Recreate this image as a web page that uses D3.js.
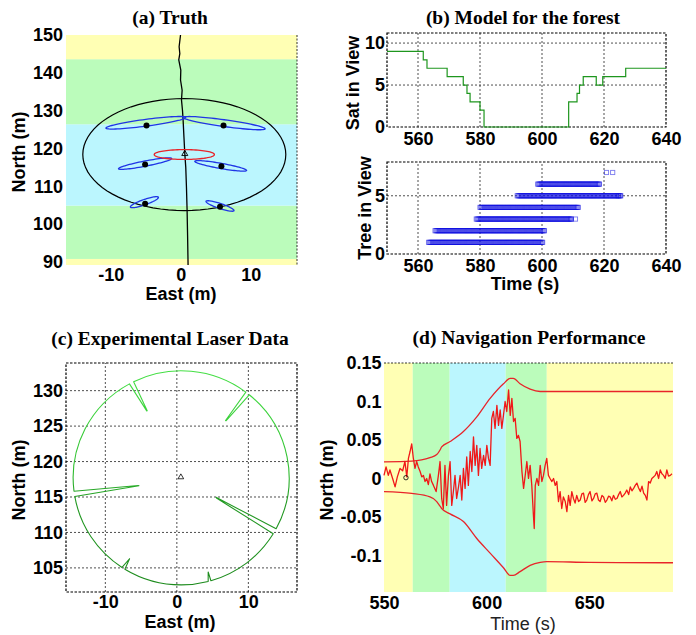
<!DOCTYPE html>
<html>
<head>
<meta charset="utf-8">
<script src="https://cdn.jsdelivr.net/npm/d3@7"></script>
<style>
  body { margin: 0; background: #fff; }
  text { font-family: "Liberation Sans", Arial, sans-serif; fill: #000; }
  .title { font-family: "Liberation Serif", "Times New Roman", serif; font-weight: bold; font-size: 19.5px; }
  .tick text { font-size: 18px; font-weight: bold; }
  .lab { font-size: 18px; font-weight: bold; }
</style>
</head>
<body>
<svg id="fig" width="696" height="635"></svg>
<script>
// ---------- data ----------
// (a) Truth
var truthBandLo = [89.2, 90.8, 104.9, 126.4, 143.6];
var truthBandHi = [90.8, 104.9, 126.4, 143.6, 150];
var truthBandKind = ["open", "edge", "forest", "edge", "open"];
var pathNorth = [150, 146.9, 145.1, 143.4, 140.7, 138.1, 135.4, 132.8, 130.1, 127.5, 123, 118.7, 115, 109.7, 103.6, 97, 89.2];
var pathEast  = [-0.04, -0.24, -0.14, -0.29, 0.0, -0.04, 0.19, 0.1, 0.24, 0.33, 0.45, 0.57, 0.71, 0.81, 0.9, 0.97, 1.04];
var treeEast  = [-4.9, 6.1, -5.1, 5.8, -5.1, 5.6];
var treeNorth = [126.1, 126.1, 115.8, 115.3, 105.4, 104.6];
// tree uncertainty ellipses: centre, major half-vector, vertical half-size
var ellCx = [-5.0, 6.2, -5.1, 5.7, -5.2, 5.6];
var ellCy = [126.8, 126.7, 116.0, 115.4, 105.8, 104.8];
var ellUx = [5.7, 5.85, 3.8, 3.7, 2.0, 2.0];
var ellUy = [1.4, -1.5, 1.35, -1.2, 1.25, -1.2];
var ellV  = [0.9, 0.9, 0.7, 0.7, 0.75, 0.7];
var robotEllipse = [0.5, 118.4, 4.3, 0, 1.3];   // red
var rangeEllipse = [0.5, 118.4, 14.5, 0, 14.8]; // black
var robotPos = [0.57, 118.6];

// (b) Model for the forest
var satTime  = [550, 561.7, 562.9, 569.4, 574.6, 575.8, 576.8, 580.0, 581.3, 608.6, 611.3, 612.1, 613.3, 617.5, 619.6, 627.0, 640];
var satCount = [9, 8, 7, 6, 5, 4, 3, 2, 0, 3, 4, 5, 6, 5, 6, 7, 7];
var treeRow  = [1, 2, 3, 4, 5, 6];
var treeFrom = [563.4, 565.5, 578.8, 580.0, 592.0, 598.6];
var treeTo   = [600.2, 600.8, 609.4, 611.7, 625.4, 618.5];
var treeExtraRow  = [3, 5, 7, 7];
var treeExtraTime = [610.8, 624.6, 620.8, 622.8];
var scanPeriod = 0.3;

// (c) Experimental laser data: [bearing deg, range m], max range drawn as arcs
var scanOrigin = [0.6, 117.7];
var scanMax = 15.1;
var scanAngle = [-90, -75.5, -74.1, -74.0, -31.5, -30.0, -29.4, -28.4, 50.9, 52.1, 52.5, 53.2, 116.1, 116.6, 117.0, 118.6, 187.2, 190.2, 190.6, 190.0, 236.8, 237.7, 238.6, 270];
var scanRange = [15.1, 15.1, 13.8, 15.1, 15.1, 5.7, 5.6, 15.1, 15.1, 10.2, 10.2, 15.1, 15.1, 10.6, 10.6, 15.1, 15.1, 6.1, 6.0, 15.1, 15.1, 13.5, 15.1, 15.1];
var laserRobot = [0.56, 117.8];

// (d) Navigation performance
var navBandFrom = [550, 564, 582, 609.3, 629.3];
var navBandTo   = [564, 582, 609.3, 629.3, 690.8];
var navBandKind = ["open", "edge", "forest", "edge", "open"];
var errTime = [550.0, 551.0, 552.1, 552.9, 554.2, 555.4, 556.5, 557.8, 559.1, 560.2, 561.1, 561.9, 562.7, 563.5, 564.3, 565.1, 565.9, 566.7, 567.6, 568.4, 569.2, 570.0, 570.8, 571.6, 572.4, 573.2, 574.1, 575.4, 576.5, 577.3, 578.1, 578.9, 579.7, 580.5, 581.4, 582.2, 583.0, 583.8, 584.6, 585.4, 586.3, 587.1, 587.9, 588.7, 589.5, 590.3, 591.1, 592.0, 592.8, 593.6, 594.4, 595.2, 596.0, 596.8, 597.6, 598.5, 599.3, 600.1, 600.9, 601.7, 602.5, 603.3, 604.1, 605.0, 605.8, 606.6, 607.4, 608.2, 609.0, 609.8, 610.7, 611.5, 612.3, 613.1, 613.9, 614.7, 615.5, 616.3, 617.2, 618.0, 618.8, 619.6, 620.4, 621.2, 622.0, 622.8, 623.2, 623.7, 624.5, 625.3, 626.1, 626.9, 627.7, 628.5, 629.3, 630.1, 630.9, 631.8, 632.6, 633.4, 634.2, 635.0, 635.8, 636.6, 637.4, 638.3, 639.1, 639.9, 640.7, 641.5, 642.3, 643.1, 643.9, 644.8, 645.6, 646.4, 647.2, 648.0, 648.8, 649.6, 650.4, 651.3, 652.1, 652.9, 653.7, 654.5, 655.3, 656.2, 657.0, 657.8, 658.6, 659.4, 660.2, 661.0, 661.8, 662.7, 663.5, 664.3, 665.1, 665.9, 666.7, 667.5, 668.3, 669.2, 670.0, 670.8, 671.6, 672.4, 673.2, 674.0, 674.9, 675.7, 676.5, 677.3, 678.1, 678.9, 679.7, 680.5, 681.3, 682.1, 682.9, 683.8, 684.6, 685.4, 686.2, 687.0, 687.8, 688.6, 689.5, 690.3];
var errNorth = [0.004, 0.015, 0.004, 0.011, 0.000, -0.011, 0.002, 0.013, 0.010, 0.022, 0.002, 0.026, 0.035, 0.045, 0.026, 0.013, 0.022, 0.015, 0.009, 0.002, 0.004, -0.004, 0.000, -0.008, 0.006, -0.004, -0.009, -0.017, 0.004, 0.022, -0.026, -0.039, 0.017, -0.035, 0.004, 0.022, -0.035, -0.017, 0.004, -0.026, -0.011, 0.004, -0.028, 0.013, -0.013, 0.028, -0.009, 0.035, 0.009, 0.054, 0.017, 0.043, 0.004, 0.039, 0.013, 0.030, 0.017, 0.043, 0.026, 0.017, 0.078, 0.087, 0.065, 0.095, 0.069, 0.089, 0.065, 0.082, 0.100, 0.087, 0.115, 0.082, 0.104, 0.074, 0.078, 0.052, 0.056, 0.048, 0.009, -0.013, 0.004, 0.022, 0.000, 0.017, -0.009, -0.048, -0.065, -0.009, 0.000, -0.009, 0.017, -0.004, 0.004, 0.017, 0.026, 0.004, 0.000, -0.004, 0.000, -0.009, -0.004, -0.030, -0.017, -0.039, -0.024, -0.030, -0.043, -0.022, -0.035, -0.017, -0.026, -0.032, -0.022, -0.030, -0.028, -0.020, -0.019, -0.031, -0.028, -0.021, -0.017, -0.029, -0.026, -0.020, -0.019, -0.028, -0.030, -0.022, -0.024, -0.031, -0.028, -0.023, -0.024, -0.029, -0.022, -0.027, -0.026, -0.021, -0.017, -0.024, -0.022, -0.019, -0.015, -0.021, -0.011, -0.016, -0.013, -0.009, -0.006, -0.012, -0.017, -0.010, -0.019, -0.022, -0.028, -0.004, -0.006, 0.000, 0.002, 0.004, 0.009, 0.000, 0.011, 0.006, 0.004, 0.000, 0.011, 0.003, 0.004, 0.006, 0.000];
var boundTime  = [550, 563.5, 572.4, 575.7, 577.3, 578.1, 582.2, 588.7, 595.2, 601.7, 608.2, 611.5, 613.0, 616.3, 621.2, 626.1, 629.3, 650, 690.8];
var boundUpper = [0.0216, 0.0225, 0.027, 0.031, 0.037, 0.041, 0.048, 0.061, 0.080, 0.104, 0.123, 0.130, 0.130, 0.123, 0.116, 0.113, 0.113, 0.113, 0.113];
var boundLower = [-0.017, -0.0195, -0.024, -0.030, -0.036, -0.039, -0.046, -0.056, -0.078, -0.097, -0.116, -0.126, -0.126, -0.121, -0.113, -0.109, -0.108, -0.109, -0.1095];
var markTime = 560.7, markNorth = 0.001;

// ---------- drawing ----------
var bandFill = { open: "#ffffb4", edge: "#bbfcbb", forest: "#bbf6fe" };
var svg = d3.select("#fig");

function leftAxis(g, scale, vals, pad) {
  g.call(d3.axisLeft(scale).tickValues(vals).tickSize(0).tickPadding(pad).tickFormat(function (d) { return String(d); }));
  g.select(".domain").remove();
}
function bottomAxis(g, scale, vals, pad) {
  g.call(d3.axisBottom(scale).tickValues(vals).tickSize(0).tickPadding(pad).tickFormat(function (d) { return String(d); }));
  g.select(".domain").remove();
}
function grid(g, x, y, xs, ys) {
  var x0 = x.range()[0], x1 = x.range()[1], y0 = y.range()[0], y1 = y.range()[1];
  g.selectAll("line.gx").data(xs).join("line").attr("class", "gx")
    .attr("x1", function (d) { return x(d); }).attr("x2", function (d) { return x(d); })
    .attr("y1", y0).attr("y2", y1);
  g.selectAll("line.gy").data(ys).join("line").attr("class", "gy")
    .attr("y1", function (d) { return y(d); }).attr("y2", function (d) { return y(d); })
    .attr("x1", x0).attr("x2", x1);
  g.selectAll("line").attr("stroke", "#222").attr("stroke-width", 0.8).attr("stroke-dasharray", "2,2");
  g.append("rect").attr("x", x0).attr("y", y1).attr("width", x1 - x0).attr("height", y0 - y1)
    .attr("fill", "none").attr("stroke", "#000").attr("stroke-width", 1.2).attr("stroke-dasharray", "2.5,1.5");
}
function ellipsePts(cx, cy, ux, uy, v) {
  return d3.range(0, 2 * Math.PI, Math.PI / 40).map(function (t) {
    return [cx + ux * Math.cos(t), cy + uy * Math.cos(t) + v * Math.sin(t)];
  });
}
function title(x, y, s) {
  svg.append("text").attr("class", "title").attr("x", x).attr("y", y).attr("text-anchor", "middle").text(s);
}
function label(x, y, s, rot) {
  var t = svg.append("text").attr("class", "lab").attr("text-anchor", "middle").text(s);
  if (rot) t.attr("transform", "translate(" + x + "," + y + ")rotate(-90)");
  else t.attr("x", x).attr("y", y);
  return t;
}

// ===== (a) Truth =====
(function () {
  var x = d3.scaleLinear().domain([-16.4, 16.6]).range([66, 297]);
  var y = d3.scaleLinear().domain([89.2, 150]).range([265, 35]);
  var g = svg.append("g");
  g.selectAll("rect.band").data(truthBandLo).join("rect").attr("class", "band")
    .attr("x", x.range()[0]).attr("width", x.range()[1] - x.range()[0])
    .attr("y", function (d, i) { return y(truthBandHi[i]); })
    .attr("height", function (d, i) { return y(d) - y(truthBandHi[i]); })
    .attr("fill", function (d, i) { return bandFill[truthBandKind[i]]; });
  g.append("line").attr("x1", 297).attr("x2", 297).attr("y1", y(150)).attr("y2", y(89.2))
    .attr("stroke", "#000").attr("stroke-width", 0.8).attr("stroke-dasharray", "2,1.5");

  var line = d3.line().x(function (d) { return x(d[0]); }).y(function (d) { return y(d[1]); });
  var closed = d3.line().x(function (d) { return x(d[0]); }).y(function (d) { return y(d[1]); }).curve(d3.curveLinearClosed);

  g.append("path").attr("d", closed(ellipsePts.apply(null, rangeEllipse)))
    .attr("fill", "none").attr("stroke", "#000").attr("stroke-width", 1.2);
  g.append("path").attr("d", line(pathEast.map(function (e, i) { return [e, pathNorth[i]]; })))
    .attr("fill", "none").attr("stroke", "#000").attr("stroke-width", 1.3).attr("stroke-linejoin", "round");
  ellCx.forEach(function (cx, i) {
    g.append("path").attr("d", closed(ellipsePts(cx, ellCy[i], ellUx[i], ellUy[i], ellV[i])))
      .attr("fill", "none").attr("stroke", "#1f35e6").attr("stroke-width", 1.3);
  });
  g.append("path").attr("d", closed(ellipsePts.apply(null, robotEllipse)))
    .attr("fill", "none").attr("stroke", "#e8242a").attr("stroke-width", 1.3);
  g.selectAll("circle.tree").data(treeEast).join("circle").attr("class", "tree")
    .attr("cx", function (d) { return x(d); }).attr("cy", function (d, i) { return y(treeNorth[i]); })
    .attr("r", 3).attr("fill", "#000");
  g.append("path").attr("d", d3.symbol(d3.symbolTriangle, 16)())
    .attr("transform", "translate(" + x(robotPos[0]) + "," + y(robotPos[1]) + ")")
    .attr("fill", "none").attr("stroke", "#000").attr("stroke-width", 0.9);

  leftAxis(svg.append("g").attr("transform", "translate(66,0)"), y, [90, 100, 110, 120, 130, 140, 150], 3);
  bottomAxis(svg.append("g").attr("transform", "translate(0,265)"), x, [-10, 0, 10], 3);
  title(170, 24, "(a) Truth");
  label(181, 300, "East (m)");
  label(25, 152, "North (m)", true);
})();

// ===== (b) Model for the forest =====
(function () {
  var x = d3.scaleLinear().domain([550, 640]).range([387, 666]);
  var y1 = d3.scaleLinear().domain([0, 11.2]).range([127, 33]);
  var y2 = d3.scaleLinear().domain([0, 7.9]).range([254, 162]);
  grid(svg.append("g"), x, y1, [560, 580, 600, 620], [5, 10]);
  grid(svg.append("g"), x, y2, [560, 580, 600, 620], [5]);

  var step = d3.line().x(function (d) { return x(d[0]); }).y(function (d) { return y1(d[1]); }).curve(d3.curveStepAfter);
  svg.append("path").attr("d", step(satTime.map(function (t, i) { return [t, satCount[i]]; })))
    .attr("fill", "none").attr("stroke", "#1e961e").attr("stroke-width", 1.2);

  var obs = [];
  treeRow.forEach(function (r, i) {
    d3.range(treeFrom[i], treeTo[i] + 1e-6, scanPeriod).forEach(function (t) { obs.push([t, r]); });
    obs.push([treeTo[i], r]);
  });
  treeExtraRow.forEach(function (r, i) { obs.push([treeExtraTime[i], r]); });
  svg.append("g").selectAll("rect").data(obs).join("rect")
    .attr("x", function (d) { return x(d[0]) - 2.1; }).attr("y", function (d) { return y2(d[1]) - 2.1; })
    .attr("width", 4.2).attr("height", 4.2)
    .attr("fill", "none").attr("stroke", "#0c0ce0").attr("stroke-opacity", 0.55).attr("stroke-width", 0.9);

  leftAxis(svg.append("g").attr("transform", "translate(387,0)"), y1, [0, 5, 10], 2);
  bottomAxis(svg.append("g").attr("transform", "translate(0,127)"), x, [560, 580, 600, 620, 640], 5);
  leftAxis(svg.append("g").attr("transform", "translate(387,0)"), y2, [0, 5], 2);
  bottomAxis(svg.append("g").attr("transform", "translate(0,254)"), x, [560, 580, 600, 620, 640], 5);
  title(523, 24, "(b) Model for the forest");
  label(359, 83, "Sat in View", true);
  label(371, 208, "Tree in View", true);
  label(525, 290, "Time (s)");
})();

// ===== (c) Experimental Laser Data =====
(function () {
  var x = d3.scaleLinear().domain([-15.5, 16.8]).range([66, 297]);
  var y = d3.scaleLinear().domain([101.6, 133.9]).range([592, 363]);
  grid(svg.append("g"), x, y, [-10, 0, 10], [105, 110, 115, 120, 125, 130]);

  var defs = svg.append("defs");
  var grad = defs.append("linearGradient").attr("id", "scanGrad").attr("gradientUnits", "userSpaceOnUse")
    .attr("x1", 0).attr("x2", 0).attr("y1", y(133)).attr("y2", y(102));
  grad.append("stop").attr("offset", 0).attr("stop-color", "#45e045");
  grad.append("stop").attr("offset", 0.45).attr("stop-color", "#30c030");
  grad.append("stop").attr("offset", 0.6).attr("stop-color", "#239a23");
  grad.append("stop").attr("offset", 1).attr("stop-color", "#1c8a1c");

  function pt(a, r) {
    var rad = a * Math.PI / 180;
    return [x(scanOrigin[0] + r * Math.cos(rad)), y(scanOrigin[1] + r * Math.sin(rad))];
  }
  var rx = x(scanMax) - x(0), ry = y(0) - y(scanMax);
  var p0 = pt(scanAngle[0], scanRange[0]);
  var d = "M" + p0[0] + "," + p0[1];
  for (var i = 1; i < scanAngle.length; i++) {
    var p = pt(scanAngle[i], scanRange[i]);
    if (scanRange[i] === scanMax && scanRange[i - 1] === scanMax) {
      var large = (scanAngle[i] - scanAngle[i - 1]) > 180 ? 1 : 0;
      d += "A" + rx + "," + ry + " 0 " + large + " 0 " + p[0] + "," + p[1];
    } else {
      d += "L" + p[0] + "," + p[1];
    }
  }
  svg.append("path").attr("d", d).attr("fill", "none").attr("stroke", "url(#scanGrad)")
    .attr("stroke-width", 1.1).attr("stroke-linejoin", "round");
  svg.append("path").attr("d", d3.symbol(d3.symbolTriangle, 14)())
    .attr("transform", "translate(" + x(laserRobot[0]) + "," + y(laserRobot[1]) + ")")
    .attr("fill", "none").attr("stroke", "#000").attr("stroke-width", 0.8);

  leftAxis(svg.append("g").attr("transform", "translate(66,0)"), y, [105, 110, 115, 120, 125, 130], 3);
  bottomAxis(svg.append("g").attr("transform", "translate(0,592)"), x, [-10, 0, 10], 3);
  title(170, 345, "(c) Experimental Laser Data");
  label(180, 628, "East (m)");
  label(25, 480, "North (m)", true);
})();

// ===== (d) Navigation Performance =====
(function () {
  var x = d3.scaleLinear().domain([550, 690.8]).range([384, 673]);
  var y = d3.scaleLinear().domain([-0.1475, 0.15]).range([592, 363]);
  svg.append("g").selectAll("rect").data(navBandFrom).join("rect")
    .attr("x", function (d) { return x(d); }).attr("width", function (d, i) { return x(navBandTo[i]) - x(d); })
    .attr("y", y(0.15)).attr("height", y(-0.1475) - y(0.15))
    .attr("fill", function (d, i) { return bandFill[navBandKind[i]]; });
  svg.append("line").attr("x1", x(550)).attr("x2", x(690.8)).attr("y1", y(0.15)).attr("y2", y(0.15))
    .attr("stroke", "#000").attr("stroke-width", 0.8).attr("stroke-dasharray", "2,1.5");

  var smooth = d3.line().x(function (d) { return x(d[0]); }).y(function (d) { return y(d[1]); }).curve(d3.curveMonotoneX);
  svg.append("path").attr("d", smooth(boundTime.map(function (t, i) { return [t, boundUpper[i]]; })))
    .attr("fill", "none").attr("stroke", "#e8242a").attr("stroke-width", 1.3);
  svg.append("path").attr("d", smooth(boundTime.map(function (t, i) { return [t, boundLower[i]]; })))
    .attr("fill", "none").attr("stroke", "#e8242a").attr("stroke-width", 1.3);
  var line = d3.line().x(function (d) { return x(d[0]); }).y(function (d) { return y(d[1]); });
  svg.append("path").attr("d", line(errTime.map(function (t, i) { return [t, errNorth[i]]; })))
    .attr("fill", "none").attr("stroke", "#f01818").attr("stroke-width", 1.3).attr("stroke-linejoin", "round");
  svg.append("circle").attr("cx", x(markTime)).attr("cy", y(markNorth)).attr("r", 2.2)
    .attr("fill", "none").attr("stroke", "#000").attr("stroke-width", 0.8);

  leftAxis(svg.append("g").attr("transform", "translate(384,0)"), y, [-0.1, -0.05, 0, 0.05, 0.1, 0.15], 2.5);
  bottomAxis(svg.append("g").attr("transform", "translate(0,592)"), x, [550, 600, 650], 4.5);
  title(529, 344, "(d) Navigation Performance");
  label(523, 630, "Time (s)").style("font-weight", "normal").style("fill", "#222");
  label(333, 480, "North (m)", true);
})();
</script>
</body>
</html>
